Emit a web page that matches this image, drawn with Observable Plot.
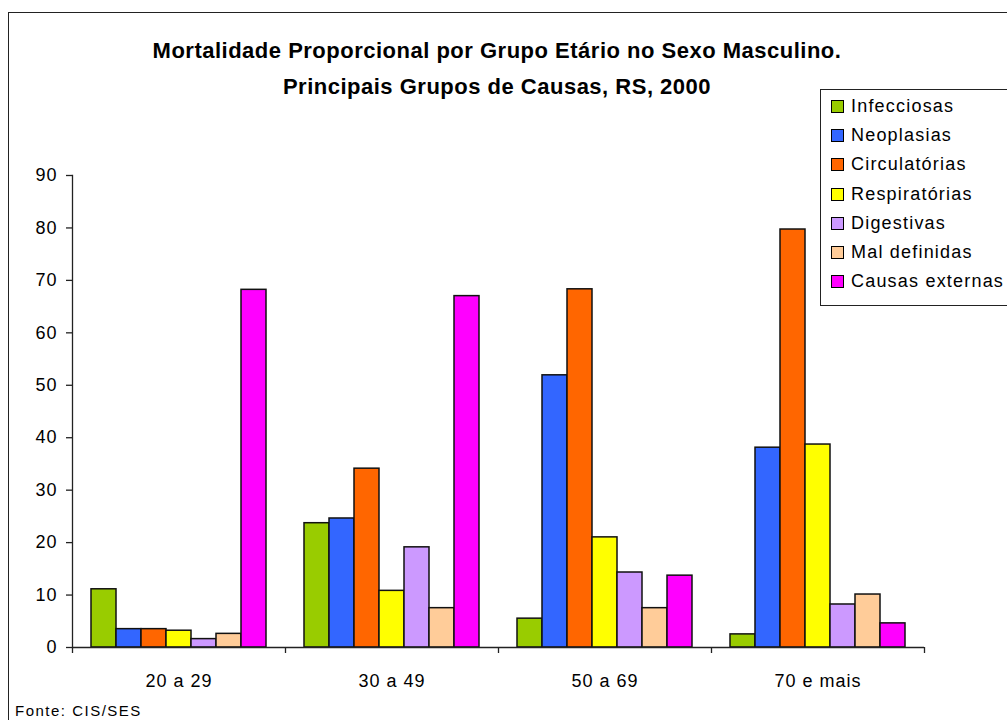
<!DOCTYPE html>
<html><head><meta charset="utf-8">
<script src="https://cdn.jsdelivr.net/npm/d3@7"></script>
<script src="https://cdn.jsdelivr.net/npm/@observablehq/plot@0.6"></script>
<style>
body{margin:0;background:#fff;font-family:"Liberation Sans",Arial,sans-serif;color:#000;}
#wrap{position:relative;width:1007px;height:720px;overflow:hidden;background:#fff;}
#border{position:absolute;left:8px;top:12px;width:1100px;height:800px;border:1.5px solid #222;box-sizing:border-box;}
#chart{position:absolute;left:0;top:0;}
#chart svg text{letter-spacing:1px;}
.title{position:absolute;left:0;width:994px;text-align:center;font-weight:bold;font-size:22px;letter-spacing:0.5px;}
#legend{position:absolute;left:820px;top:89px;width:220px;height:217px;border:1.5px solid #222;box-sizing:border-box;background:#fff;}
.li{position:absolute;left:10px;height:20px;font-size:18px;letter-spacing:1.2px;white-space:nowrap;line-height:20px;}
.sw{display:inline-block;width:11px;height:11px;border:1px solid #000;margin-right:7px;vertical-align:-1px;}
#fonte{position:absolute;left:15px;top:702px;font-size:15px;letter-spacing:1.5px;}
</style></head>
<body>
<div id="wrap">
  <div id="border"></div>
  <div id="chart"></div>
  <div class="title" style="top:38px">Mortalidade Proporcional por Grupo Etário no Sexo Masculino.</div>
  <div class="title" style="top:74px">Principais Grupos de Causas, RS, 2000</div>
  <div id="legend"></div>
  <div id="fonte">Fonte: CIS/SES</div>
</div>
<script>
const groups = ["20 a 29", "30 a 49", "50 a 69", "70 e mais"];
const causes = ["Infecciosas", "Neoplasias", "Circulatórias", "Respiratórias", "Digestivas", "Mal definidas", "Causas externas"];
const colors = ["#99CC00", "#3366FF", "#FF6600", "#FFFF00", "#CC99FF", "#FFCC99", "#FF00FF"];
const infecciosas    = [11.1, 23.7,  5.5,  2.5];
const neoplasias     = [ 3.5, 24.6, 51.9, 38.1];
const circulatorias  = [ 3.5, 34.1, 68.3, 79.7];
const respiratorias  = [ 3.2, 10.8, 21.0, 38.7];
const digestivas     = [ 1.6, 19.1, 14.3,  8.2];
const malDefinidas   = [ 2.6,  7.5,  7.5, 10.1];
const causasExternas = [68.2, 67.0, 13.7,  4.6];
const yTicks = [0, 10, 20, 30, 40, 50, 60, 70, 80, 90];

const series = [infecciosas, neoplasias, circulatorias, respiratorias, digestivas, malDefinidas, causasExternas];
const data = [];
groups.forEach((g, gi) => causes.forEach((c, ci) => data.push({group: g, cause: c, value: series[ci][gi]})));

const W = 1007, H = 720, mL = 72, mR = 83, mT = 175, mB = 73;
const bw = (W - mL - mR) / groups.length;

const chart = Plot.plot({
  width: W, height: H,
  marginLeft: mL, marginRight: mR, marginTop: mT, marginBottom: mB,
  style: {fontFamily: "'Liberation Sans', Arial, sans-serif", fontSize: "18px", background: "transparent", color: "#000"},
  fx: {domain: groups, padding: 0, label: null},
  x: {domain: causes, paddingInner: 0, paddingOuter: 0.75, axis: null},
  y: {domain: [0, 90], label: null},
  color: {domain: causes, range: colors},
  marks: [
    Plot.barY(data, {fx: "group", x: "cause", y: "value", fill: "cause", stroke: "#111", strokeWidth: 1.5}),
    Plot.ruleY([0], {stroke: "#222", strokeWidth: 1.3}),
    Plot.frame({anchor: "left", facetAnchor: "left", stroke: "#222", strokeWidth: 1.3}),
    Plot.axisY({ticks: yTicks, tickSize: 6, tickPadding: 9, label: null, fontSize: 18, stroke: "#222", strokeWidth: 1.3}),
    Plot.axisFx({anchor: "bottom", tickSize: 6, text: null, dx: -bw / 2, label: null, stroke: "#222", strokeWidth: 1.3}),
    Plot.axisFx({anchor: "bottom", ticks: [groups[groups.length - 1]], tickSize: 6, text: null, dx: bw / 2, label: null, stroke: "#222", strokeWidth: 1.3}),
    Plot.axisFx({anchor: "bottom", tickSize: 0, tickPadding: 27, label: null, fontSize: 18})
  ]
});
document.getElementById("chart").appendChild(chart);

const legend = document.getElementById("legend");
causes.forEach((c, i) => {
  const d = document.createElement("div");
  d.className = "li";
  d.style.top = (6 + i * 29.2) + "px";
  d.innerHTML = `<span class="sw" style="background:${colors[i]}"></span>${c}`;
  legend.appendChild(d);
});
</script>
</body></html>
